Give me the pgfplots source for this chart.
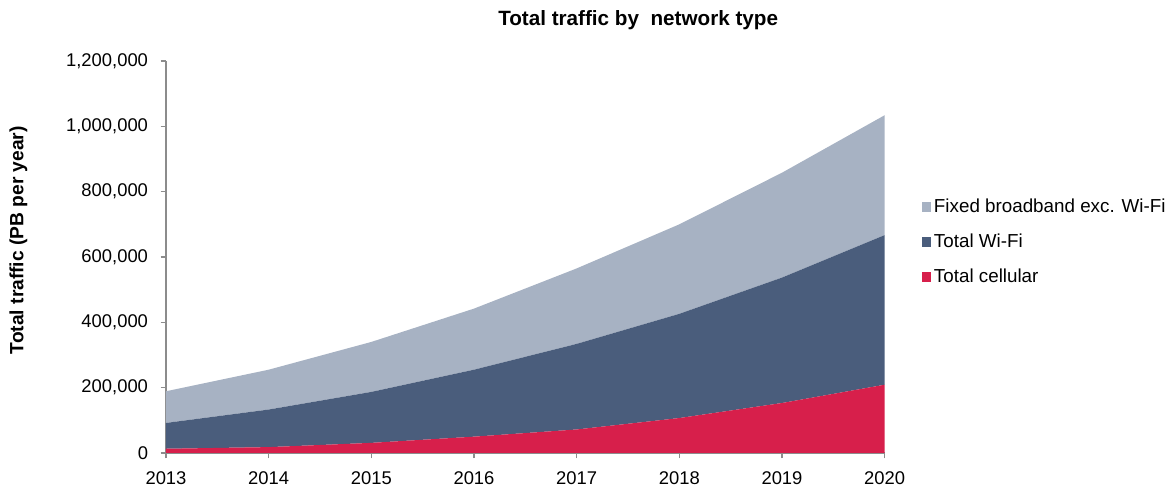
\documentclass[border=0pt]{standalone}
\usepackage{pgfplots}
\pgfplotsset{compat=1.18}
\usepackage{fontspec}
\setmainfont{Liberation Sans}
\definecolor{fixedc}{HTML}{A7B2C3}
\definecolor{wific}{HTML}{4A5D7C}
\definecolor{cellc}{HTML}{D71F4B}
\definecolor{axc}{HTML}{8C8C8C}
\begin{document}
\begin{tikzpicture}
\useasboundingbox (-124.5pt,-26.5pt) rectangle (756pt,339.75pt);
\begin{axis}[
  at={(0,0)}, anchor=south west,
  scale only axis, width=539pt, height=294pt,
  xmin=2013, xmax=2020, ymin=0, ymax=1200000,
  axis lines=left, axis line style={draw=axc, line width=0.8pt, -},
  xtick={2013,2014,2015,2016,2017,2018,2019,2020},
  xticklabels={2013,2014,2015,2016,2017,2018,2019,2020},
  ytick={0,200000,400000,600000,800000,1000000,1200000},
  yticklabels={0,{200,000},{400,000},{600,000},{800,000},{1,000,000},{1,200,000}},
  tick style={draw=axc, line width=0.8pt},
  tick align=outside, major tick length=4pt,
  x tick label style={font=\fontsize{13.8}{15}\selectfont, yshift=-6.5pt},
  y tick label style={font=\fontsize{13.8}{15}\selectfont, xshift=-6pt},
  scaled y ticks=false,
  stack plots=y,
  clip=false,
  reverse legend,
  legend cell align=left,
  legend style={draw=none, fill=none, at={(rel axis cs:1.046,0.662)}, anchor=north west,
    font=\fontsize{14.1}{16}\selectfont, row sep=10.5pt,
    /tikz/every even column/.append style={column sep=1pt}},
  legend image code/.code={\fill[#1] (0pt,-3.8pt) rectangle (7pt,3.6pt);},
]
\addplot[fill=cellc, draw=none] coordinates {
(2013,13000) (2014,18000) (2015,31000) (2016,50000) (2017,72000) (2018,107000) (2019,153000) (2020,209000)} \closedcycle;
\addlegendentry{Total cellular}
\addplot[fill=wific, draw=none] coordinates {
(2013,79000) (2014,115000) (2015,156000) (2016,205000) (2017,262000) (2018,319000) (2019,384000) (2020,458000)} \closedcycle;
\addlegendentry{Total Wi-Fi}
\addplot[fill=fixedc, draw=none] coordinates {
(2013,97000) (2014,122000) (2015,153000) (2016,187000) (2017,231000) (2018,274000) (2019,321000) (2020,367000)} \closedcycle;
\addlegendentry{Fixed broadband exc. Wi-Fi}
\node[font=\bfseries\fontsize{15.5}{17}\selectfont] at (rel axis cs:0.657,1) [yshift=31pt] {Total traffic by\ \ network type};
\node[font=\bfseries\fontsize{14.4}{16}\selectfont, xshift=-110.6pt, rotate=90] at (rel axis cs:0,0.543) {Total traffic (PB per year)};
\end{axis}
\end{tikzpicture}
\end{document}
